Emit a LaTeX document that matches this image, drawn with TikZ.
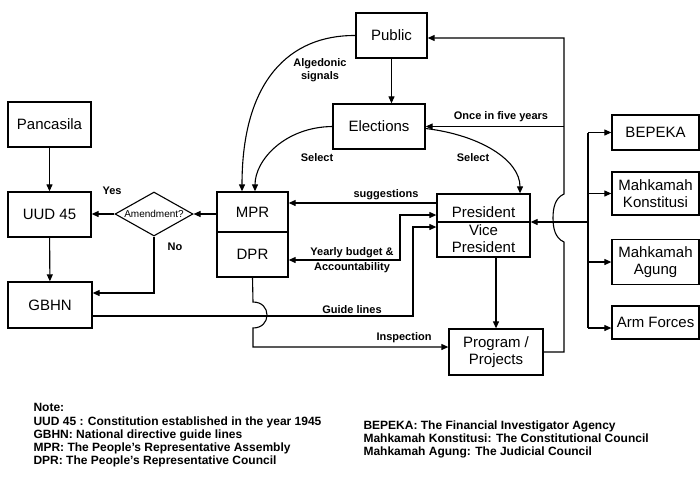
\documentclass[tikz,border=0pt]{standalone}
\usepackage{fontspec}
\setmainfont{Liberation Sans}
\usetikzlibrary{arrows.meta,shapes.geometric}

\begin{document}
\begin{tikzpicture}[x = 1pt, y = -1pt, line width = 1.1pt,
  box/.style = {draw, line width = 1.3pt, inner sep = 1pt, align = center, font = \fontsize{15}{17}\selectfont},
  lbl/.style = {inner sep = 1pt, align = center, font = \bfseries\fontsize{11}{12.5}\selectfont},
  note/.style = {inner sep = 0pt, align = left, anchor = north west, font = \bfseries\fontsize{12}{13.2}\selectfont},
  arr/.style = {-{Triangle[length = 7pt, width = 6pt]}},
  twoarr/.style = {{Triangle[length = 7pt, width = 6pt]}-{Triangle[length = 7pt, width = 6pt]}}]

  \useasboundingbox (0, 0) rectangle (700, 477);

  % left column
  \node[box, minimum width = 83, minimum height = 45] (panc) at (49.5, 124.5) {Pancasila};
  \node[box, minimum width = 83, minimum height = 45] (uud) at (49.5, 214.5) {UUD 45};
  \node[box, minimum width = 84, minimum height = 46] (gbhn) at (50, 305) {GBHN};
  \node[draw, diamond, aspect = 1.8, inner sep = 0pt, minimum width = 78, minimum height = 44, font = \fontsize{10}{12}\selectfont] (amend) at (154, 214) {Amendment?};

  % assembly
  \node[box, minimum width = 71, minimum height = 40] (mpr) at (252.5, 212) {MPR};
  \node[box, minimum width = 71, minimum height = 45] (dpr) at (252.5, 254.5) {DPR};

  \node[box, minimum width = 71, minimum height = 45] (pub) at (391.5, 35.5) {Public};
  \node[box, minimum width = 92, minimum height = 45] (elec) at (379, 126.5) {Elections};

  \node[box, minimum width = 93, minimum height = 63] (pres) at (483.5, 225.5) {};
  \node[inner sep = 0pt, align = center, font = \fontsize{15}{17.5}\selectfont] (prestxt) at (483.5, 230) {President\\Vice\\President};
  \node[box, minimum width = 94, minimum height = 46] (prog) at (496, 352) {Program /\\Projects};

  % right column
  \node[box, minimum width = 87, minimum height = 35] (bep) at (655.5, 132.5) {BEPEKA};
  \node[box, minimum width = 87, minimum height = 43] (mk) at (655.5, 193.5) {Mahkamah\\Konstitusi};
  \node[box, minimum width = 87, minimum height = 45] (ma) at (655.5, 262) {Mahkamah\\Agung};
  \node[box, minimum width = 87, minimum height = 33] (af) at (655.5, 322.5) {Arm Forces};

  \coordinate (retBot) at (564, 352);
  \coordinate (retTop) at (564, 38);
  \coordinate (once) at (564, 126.5);
  \coordinate (bus) at (588, 222);
  \coordinate (busEnd) at (588, 328);

  \draw[line width = 1.2pt] (pres.west |- bus) -- (pres.east |- bus);

  \draw[arr] (panc) -- (uud);
  \draw[arr] (uud) -- (gbhn);
  \draw[arr] (amend.east -| mpr.west) -- (amend.east);
  \draw[arr] (amend.west) -- (amend.west -| uud.east);
  \draw[arr] (amend.south) -- (amend.south |- 0, 293) -- (gbhn.east |- 0, 293);

  \draw[arr] (pub.west) .. controls (290, 35) and (242, 80) .. ([xshift = -10.5pt]mpr.north);
  \draw[arr] (pub) -- (pub |- elec.north);
  \draw[arr] (elec.west) .. controls (285, 127) and (255, 160) .. ([xshift = 2.5pt]mpr.north);
  \draw[arr] ([yshift = -2pt]elec.east) .. controls (480, 135) and (520, 160) .. ([xshift = 36.5pt]pres.north);

  \draw[arr] (prog.east) -- (retBot) -- (564, 242) .. controls (555, 238) and (553, 228) .. (553, 218)
    .. controls (553, 208) and (555, 198) .. (564, 194) -- (retTop) -- (pub.east |- retTop);
  \draw[arr] (once) -- (elec.east);

  \draw[arr] (pres.west |- 0, 203) -- (mpr.east |- 0, 203);
  \draw[twoarr] (pres.west |- 0, 215) -- (400, 215) -- (400, 260) -- (dpr.east |- 0, 260);
  \draw[arr] (gbhn.east |- 0, 316) -- (413, 316) -- (413, 227) -- (pres.west |- 0, 227);
  \draw[arr] (dpr.south) -- (253, 302) .. controls (262, 302) and (267, 308) .. (267, 315)
    .. controls (267, 322) and (262, 328) .. (253, 328) -- (253, 347) -- (prog.west |- 0, 347);
  \draw[arr] (prog.north |- pres.south) -- (prog.north);

  % bus to the right
  \draw (bus |- bep.west) -- (busEnd);
  \draw[arr] (bus) -- (pres.east |- bus);
  \draw[arr] (bus |- bep.west) -- (bep.west);
  \draw[arr] (bus |- mk.west) -- (mk.west);
  \draw[arr] (bus |- ma.west) -- (ma.west);
  \draw[arr] (busEnd) -- (af.west |- busEnd);

  % labels
  \node[lbl] (yes) at (112, 191) {Yes};
  \node[lbl] (no) at (175, 247) {No};
  \node[lbl] (alg) at (320, 70) {Algedonic\\signals};
  \node[lbl] (selL) at (317, 158) {Select};
  \node[lbl] (selR) at (473, 158) {Select};
  \node[lbl] (oncelbl) at (501, 117) {Once in five years};
  \node[lbl] (sugg) at (386, 195) {suggestions};
  \node[lbl, anchor = south] (ybud) at (352, 259) {Yearly budget \&};
  \node[lbl, anchor = north] (acct) at (352, 261) {Accountability};
  \node[lbl] (guide) at (352, 310) {Guide lines};
  \node[lbl] (insp) at (404, 338) {Inspection};

  % notes
  \node[note] (notesL) at (33, 403) {Note:\\UUD 45 : Constitution established in the year 1945\\GBHN: National directive guide lines\\MPR: The People's Representative Assembly\\DPR: The People's Representative Council};
  \node[note] (notesR) at (363, 420) {BEPEKA: The Financial Investigator Agency\\Mahkamah Konstitusi: The Constitutional Council\\Mahkamah Agung: The Judicial Council};

\end{tikzpicture}
\end{document}
